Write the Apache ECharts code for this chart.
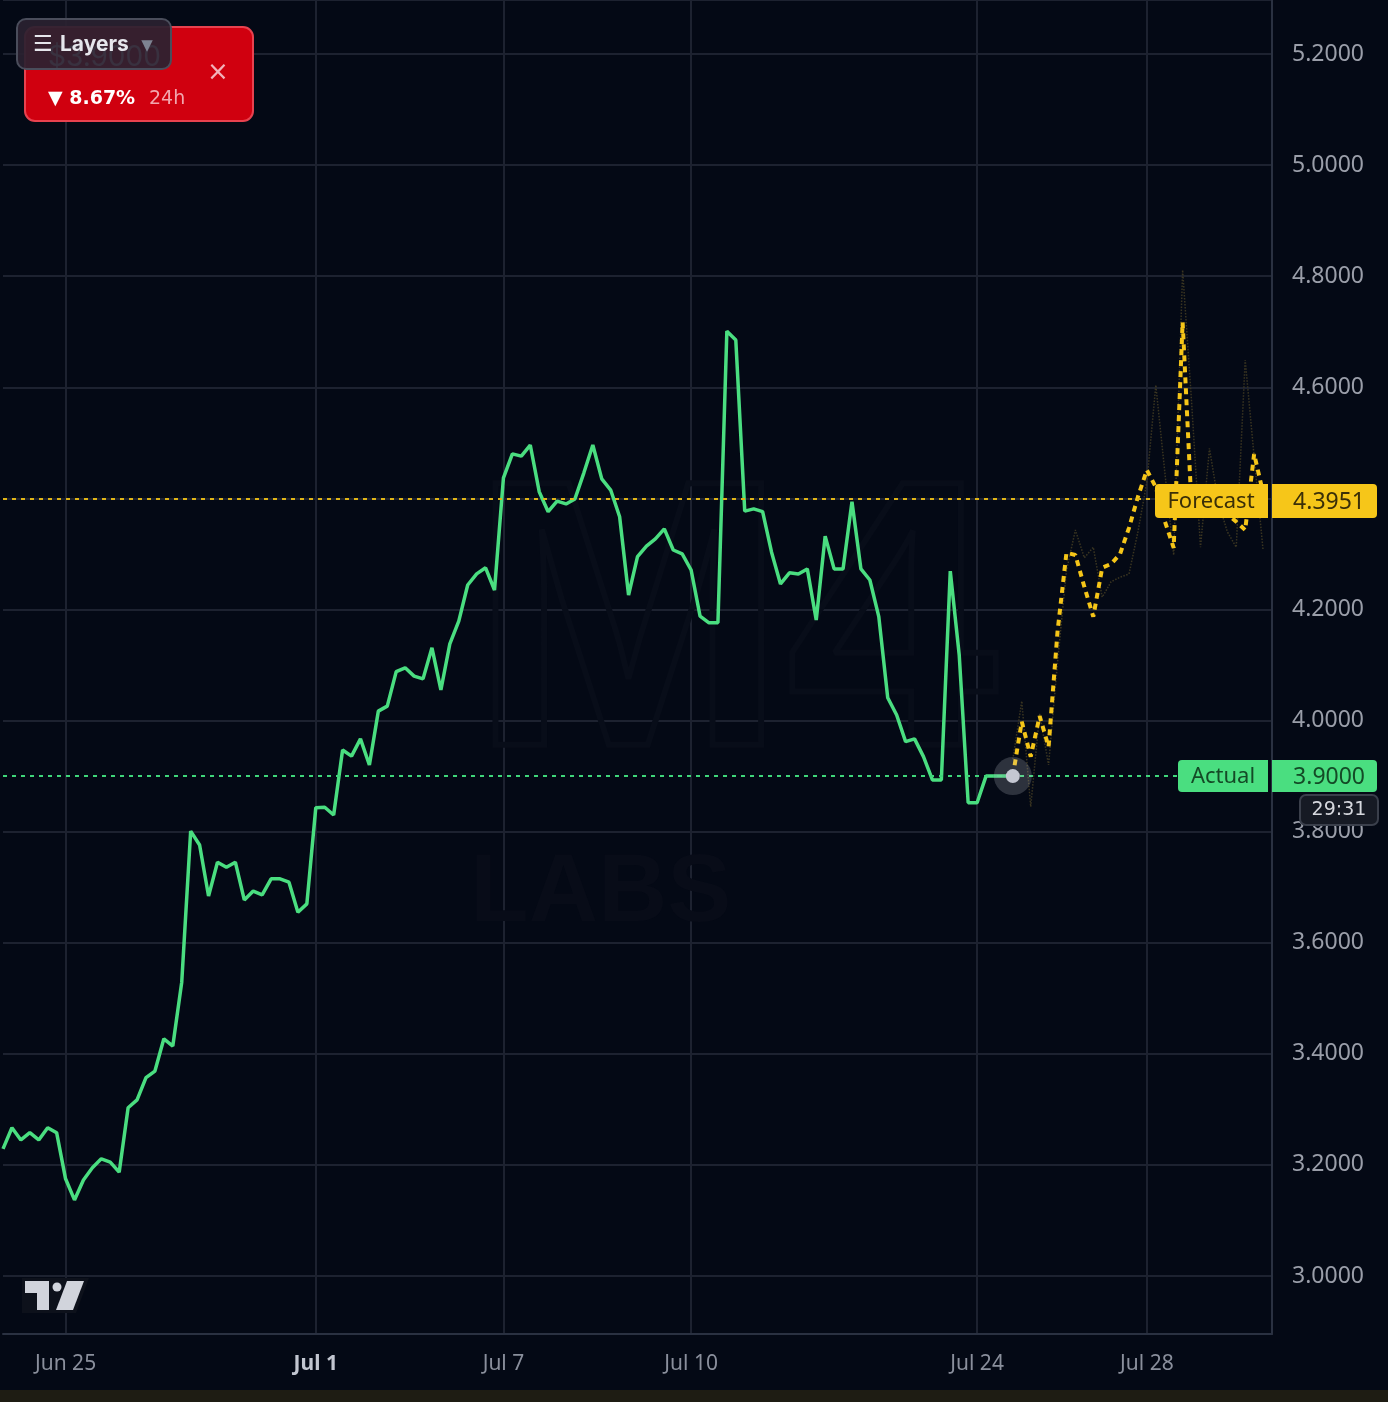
<!DOCTYPE html>
<html>
<head>
<meta charset="utf-8">
<style>
  html, body { margin: 0; padding: 0; background: #040915; }
  #chart { width: 1388px; height: 1402px; }
</style>
</head>
<body>
<div id="chart"></div>
<script src="https://cdn.jsdelivr.net/npm/echarts@6/dist/echarts.min.js"></script>
<script>
// bars are evenly spaced, only some of them carry a date label
var barCount = 143;
var labelIdx = [7, 35, 56, 77, 109, 128];
var labelText = ['Jun 25', 'Jul 1', 'Jul 7', 'Jul 10', 'Jul 24', 'Jul 28'];
var boldLabel = 'Jul 1';

var yTicks = [3.0, 3.2, 3.4, 3.6, 3.8, 4.0, 4.2, 4.4, 4.6, 4.8, 5.0, 5.2];

// actual price, bar 0 .. 113
var actual = [
  3.229, 3.267, 3.245, 3.258, 3.245, 3.267, 3.258, 3.175, 3.137, 3.173,
  3.195, 3.211, 3.205, 3.187, 3.303, 3.317, 3.357, 3.369, 3.427, 3.414,
  3.529, 3.801, 3.776, 3.684, 3.745, 3.736, 3.745, 3.677, 3.693, 3.686,
  3.715, 3.715, 3.709, 3.655, 3.670, 3.843, 3.844, 3.830, 3.947, 3.936,
  3.967, 3.920, 4.017, 4.026, 4.088, 4.095, 4.080, 4.075, 4.131, 4.055,
  4.138, 4.179, 4.244, 4.264, 4.275, 4.235, 4.437, 4.480, 4.476, 4.496,
  4.412, 4.376, 4.395, 4.390, 4.399, 4.446, 4.496, 4.435, 4.415, 4.367,
  4.226, 4.295, 4.314, 4.327, 4.345, 4.307, 4.300, 4.271, 4.188, 4.176,
  4.176, 4.701, 4.685, 4.377, 4.381, 4.376, 4.303, 4.246, 4.266, 4.264,
  4.273, 4.181, 4.332, 4.273, 4.273, 4.394, 4.273, 4.253, 4.187, 4.041,
  4.010, 3.962, 3.967, 3.935, 3.893, 3.893, 4.269, 4.118, 3.852, 3.852,
  3.900, 3.900, 3.900, 3.900
];

// forecast, bar 113 .. 141
var forecastStart = 113;
var forecast = [
  3.900, 3.998, 3.935, 4.008, 3.953, 4.160, 4.302, 4.298, 4.241, 4.187,
  4.275, 4.282, 4.300, 4.347, 4.403, 4.451, 4.420, 4.359, 4.311, 4.717,
  4.384, 4.397, 4.375, 4.400, 4.372, 4.358, 4.343, 4.480, 4.410
];
// faint dotted trace behind the forecast
var forecastRaw = [
  3.930, 4.035, 3.845, 4.012, 3.920, 4.105, 4.270, 4.343, 4.293, 4.312,
  4.222, 4.250, 4.258, 4.264, 4.340, 4.430, 4.604, 4.448, 4.298, 4.811,
  4.574, 4.312, 4.490, 4.393, 4.340, 4.312, 4.649, 4.475, 4.307
];

var actualLast = 3.9000;
var forecastLast = 4.3951;
var change24h = '8.67%';
var countdown = '29:31';

var categories = [];
for (var i = 0; i < barCount; i++) categories.push(String(i));

function padFrom(start, arr) {
  var out = [];
  for (var i = 0; i < start; i++) out.push(null);
  return out.concat(arr);
}

var chart = echarts.init(document.getElementById('chart'));

var gridCol = '#1d2230';
var axisCol = '#2a3141';

var option = {
  backgroundColor: '#040915',
  animation: false,
  grid: { left: 3, right: 116, top: 0, bottom: 68 },
  xAxis: {
    type: 'category',
    data: categories,
    boundaryGap: false,
    axisLine: { show: true, lineStyle: { color: axisCol, width: 2 } },
    axisTick: { show: false },
    splitLine: {
      show: true,
      interval: function (idx) { return labelIdx.indexOf(idx) >= 0; },
      lineStyle: { color: gridCol, width: 2 }
    },
    axisLabel: {
      interval: function (idx) { return labelIdx.indexOf(idx) >= 0; },
      margin: 20,
      color: '#8a8f9c',
      fontSize: 21,
      fontFamily: 'Noto Sans',
      formatter: function (v, idx) {
        var k = labelIdx.indexOf(idx);
        if (k < 0) return '';
        if (labelText[k] === boldLabel) return '{b|' + labelText[k] + '}';
        return labelText[k];
      },
      rich: {
        b: { fontWeight: 'bold', color: '#c2c6d0', fontSize: 21, fontFamily: 'Noto Sans' }
      }
    }
  },
  yAxis: {
    type: 'value',
    position: 'right',
    min: 2.8956,
    max: 5.2972,
    splitNumber: 12,
    minInterval: 0.2,
    maxInterval: 0.2,
    axisLine: { show: true, lineStyle: { color: axisCol, width: 2 } },
    axisTick: { show: false },
    splitLine: { show: true, lineStyle: { color: gridCol, width: 2 } },
    axisLabel: {
      margin: 20,
      color: '#9a9ea9',
      fontSize: 23,
      fontFamily: 'Noto Sans',
      formatter: function (v) {
        for (var i = 0; i < yTicks.length; i++) {
          if (Math.abs(yTicks[i] - v) < 1e-6) return v.toFixed(4);
        }
        return '';
      }
    }
  },
  series: [
    {
      name: 'raw',
      type: 'line',
      data: padFrom(forecastStart, forecastRaw),
      symbol: 'none',
      z: 2,
      lineStyle: { color: '#3a3521', width: 1.5, type: 'dotted' }
    },
    {
      name: 'Actual',
      type: 'line',
      data: actual,
      symbol: 'none',
      z: 4,
      lineStyle: { color: '#4ade80', width: 3.5 },
      markLine: {
        silent: true,
        symbol: 'none',
        label: { show: false },
        lineStyle: { color: '#3fd67a', width: 2, type: [4, 5] },
        data: [{ yAxis: actualLast }]
      },
      markPoint: {
        silent: true,
        symbol: 'circle',
        label: { show: false },
        data: [
          { coord: [String(forecastStart), actualLast], symbolSize: 38, itemStyle: { color: 'rgba(190,194,206,0.22)' } },
          { coord: [String(forecastStart), actualLast], symbolSize: 14, itemStyle: { color: '#c4c7d2' } }
        ]
      }
    },
    {
      name: 'Forecast',
      type: 'line',
      data: padFrom(forecastStart, forecast),
      symbol: 'none',
      z: 3,
      lineStyle: { color: '#f5c518', width: 4, type: [6, 5] },
      markLine: {
        silent: true,
        symbol: 'none',
        label: { show: false },
        lineStyle: { color: '#e0b416', width: 2, type: [4, 5] },
        data: [{ yAxis: forecastLast }]
      }
    }
  ]
};
chart.setOption(option);

// overlays: price tags, widget, logo
var yF = chart.convertToPixel({ yAxisIndex: 0 }, forecastLast);
var yA = chart.convertToPixel({ yAxisIndex: 0 }, actualLast);

function txt(x, y, s, font, fill, align, z) {
  return {
    type: 'text', x: x, y: y, z: z || 100,
    style: { text: s, font: font, fill: fill, align: align || 'left', verticalAlign: 'middle',
             textAlign: align || 'left', textVerticalAlign: 'middle' }
  };
}
function box(x, y, w, h, r, fill, stroke, z) {
  return {
    type: 'rect', z: z || 100,
    shape: { x: x, y: y, width: w, height: h, r: r },
    style: { fill: fill, stroke: stroke || null, lineWidth: stroke ? 2 : 0 }
  };
}

var g = [];
// bottom strip
g.push(box(0, 1390, 1388, 12, 0, '#1e1c13', null, 100));

// watermark, barely visible
g.push({ type: 'text', x: 470, y: 640, z: 1,
  style: { text: 'M4', font: 'bold 380px "Liberation Sans"', fill: 'none', stroke: '#080d19', lineWidth: 6,
           align: 'left', verticalAlign: 'middle', textAlign: 'left', textVerticalAlign: 'middle' } });
g.push({ type: 'text', x: 470, y: 895, z: 1,
  style: { text: 'LABS', font: 'bold 96px "Liberation Sans"', fill: '#080c18',
           align: 'left', verticalAlign: 'middle', textAlign: 'left', textVerticalAlign: 'middle' } });

// TradingView logo
g.push({ type: 'polygon', z: 100, shape: { points: [[22, 1278], [89, 1278], [76, 1313], [22, 1313]] }, style: { fill: '#0d111b' } });
g.push({ type: 'polygon', z: 101, shape: { points: [[25, 1281], [49, 1281], [49, 1310], [37, 1310], [37, 1293], [25, 1293]] }, style: { fill: '#d1d4dc' } });
g.push({ type: 'circle', z: 101, shape: { cx: 57, cy: 1287, r: 4.5 }, style: { fill: '#d1d4dc' } });
g.push({ type: 'polygon', z: 101, shape: { points: [[67, 1281], [84, 1281], [73, 1310], [56, 1310]] }, style: { fill: '#d1d4dc' } });

// price tags
g.push(box(1155, yF - 17, 113, 34, [4, 0, 0, 4], '#f6c619'));
g.push(txt(1211, yF + 1, 'Forecast', '22px "Noto Sans"', '#3a2f08', 'center', 101));
g.push(box(1272, yF - 17, 105, 34, [0, 4, 4, 0], '#f6c619'));
g.push(txt(1365, yF + 1, forecastLast.toFixed(4), '23px "Noto Sans"', '#3a2f08', 'right', 101));

g.push(box(1178, yA - 16, 90, 32, [4, 0, 0, 4], '#4ade80'));
g.push(txt(1223, yA + 1, 'Actual', '22px "Noto Sans"', '#144a26', 'center', 101));
g.push(box(1272, yA - 16, 105, 32, [0, 4, 4, 0], '#4ade80'));
g.push(txt(1365, yA + 1, actualLast.toFixed(4), '23px "Noto Sans"', '#144a26', 'right', 101));

g.push(box(1300, 795, 78, 30, 6, '#161a24', '#3a3f4b'));
g.push(txt(1339, 810, countdown, '19px "DejaVu Sans"', '#d6d8de', 'center', 101));

// top-left widget
g.push(box(25, 27, 228, 94, 10, '#d0000f', '#e8424f', 102));
g.push(txt(48, 58, '$' + actualLast.toFixed(4), '28px Inter', '#f3f3f3', 'left', 103));
g.push(txt(218, 73, '\u00d7', '26px "DejaVu Sans"', '#f2b2ba', 'center', 103));
g.push(txt(48, 99, '\u25bc ' + change24h, 'bold 19px "DejaVu Sans"', '#ffffff', 'left', 103));
g.push(txt(149, 99, '24h', '19px "DejaVu Sans"', '#f2a6ae', 'left', 103));

g.push(box(17, 19, 154, 50, 9, 'rgba(42,33,48,0.93)', '#4a4d5b', 104));
g.push(txt(33, 45, '\u2630', '22px "DejaVu Sans"', '#e6e6ec', 'left', 105));
g.push(txt(60, 45, 'Layers', 'bold 21px Inter', '#e6e6ec', 'left', 105));
g.push(txt(147, 46, '\u25bc', '15px "DejaVu Sans"', '#7e8392', 'center', 105));

chart.setOption({ graphic: g });
</script>
</body>
</html>
